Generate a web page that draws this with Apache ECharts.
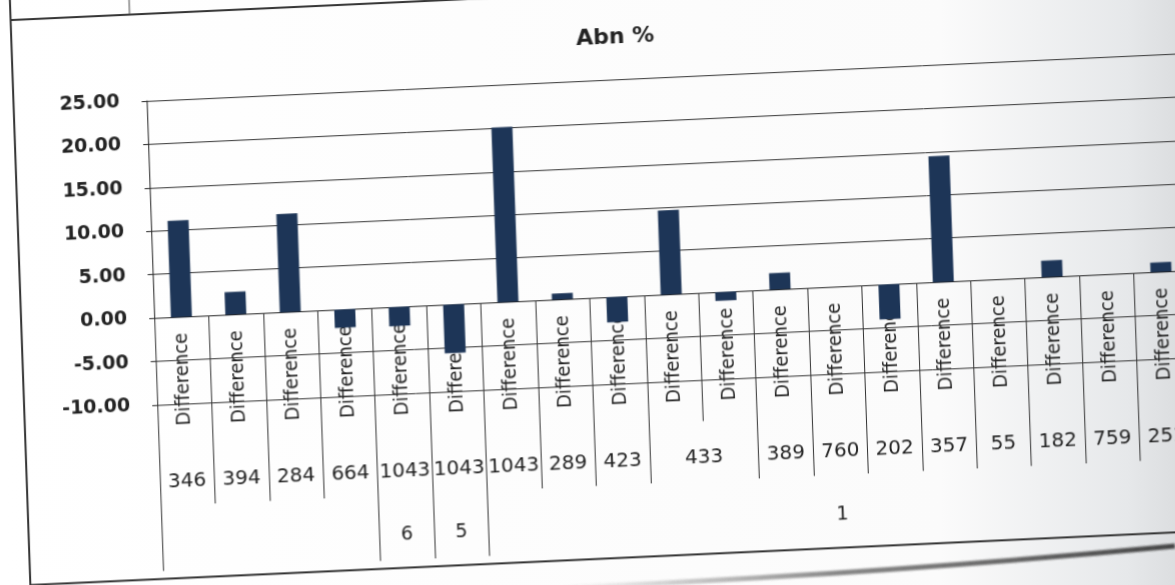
<!DOCTYPE html>
<html>
<head>
<meta charset="utf-8">
<script src="https://cdn.jsdelivr.net/npm/echarts@6/dist/echarts.min.js"></script>
<style>
  html, body { margin: 0; padding: 0; width: 1175px; height: 585px; overflow: hidden; }
  body { background: linear-gradient(to right, #ffffff 0%, #fbfbfb 80%, #e6e8ea 96%, #dcdee0 100%); position: relative; }
  /* the printed sheet sits slightly skewed on the page */
  #chart {
    position: absolute; left: -40px; top: -40px; width: 1255px; height: 665px;
    transform-origin: 627.5px 332.5px;
    transform: matrix(1, -0.046, 0.035, 1, 0, 0);
  }
  #edge { position: absolute; left: 0; top: 0; width: 1175px; height: 585px; pointer-events: none; }
</style>
</head>
<body>
<svg id="edge" viewBox="0 0 1175 585">
  <defs>
    <linearGradient id="fade" x1="0" y1="0" x2="1" y2="0">
      <stop offset="0" stop-color="#666" stop-opacity="0"/>
      <stop offset="0.45" stop-color="#555" stop-opacity="0.7"/>
      <stop offset="1" stop-color="#333" stop-opacity="0.9"/>
    </linearGradient>
    <filter id="soft"><feGaussianBlur stdDeviation="1.2"/></filter>
  </defs>
  <path d="M 560 588 Q 880 574 1175 546" fill="none" stroke="url(#fade)" stroke-width="5" filter="url(#soft)"/>
</svg>
<div id="chart"></div>
<script>
// Abn % difference per sample, three-level category axis
const categories = ['Difference', 'Difference', 'Difference', 'Difference', 'Difference',
  'Difference', 'Difference', 'Difference', 'Difference', 'Difference', 'Difference',
  'Difference', 'Difference', 'Difference', 'Difference', 'Difference', 'Difference',
  'Difference', 'Difference'];
const abnValues = [11.1, 2.6, 11.3, -2.1, -2.2, -5.6, 20.1, 0.7, -2.9, 9.7, -1.0,
  1.9, 0, -4.0, 14.5, 0, 1.9, 0, 1.1];

// second level: sample numbers and how many columns each one spans
const sampleLabels = ['346', '394', '284', '664', '1043', '1043', '1043', '289', '423',
  '433', '389', '760', '202', '357', '55', '182', '759', '251'];
const sampleSpans = [1, 1, 1, 1, 1, 1, 1, 1, 1, 2, 1, 1, 1, 1, 1, 1, 1, 1];

// third level: batch groups
const batchLabels = ['', '6', '5', '1'];
const batchSpans = [4, 1, 1, 13];

const yTicks = { min: -10, max: 25, step: 5 };

function groupLayout(labels, spans) {
  const bounds = [0], centers = [];
  let pos = 0;
  spans.forEach(function (s) { centers.push(pos + s / 2); pos += s; bounds.push(pos); });
  return { bounds: bounds, centers: centers, labels: labels };
}
const sampleGroups = groupLayout(sampleLabels, sampleSpans);
const batchGroups = groupLayout(batchLabels, batchSpans);

function labelAt(groups) {
  return function (v) {
    for (let i = 0; i < groups.centers.length; i++) {
      if (Math.abs(groups.centers[i] - v) < 1e-6) return groups.labels[i];
    }
    return '';
  };
}

const P = 40;                // margin of the enlarged canvas
const gridTop = P + 81, gridH = 304, gridLeft = P + 154, gridW = 1034;
// the category axis crosses the value axis at 0
const zeroOffset = -(0 - yTicks.min) / (yTicks.max - yTicks.min) * gridH;
const ink = '#222';
const narrow = "'DejaVu Sans Condensed', sans-serif";
const sans = "'DejaVu Sans', sans-serif";

const chart = echarts.init(document.getElementById('chart'), null, { renderer: 'canvas' });
chart.setOption({
  backgroundColor: 'transparent',
  animation: false,
  title: {
    text: 'Abn %',
    left: P + 624, top: P + 28, textAlign: 'center', padding: 0,
    textStyle: { fontFamily: sans, fontSize: 22, fontWeight: 'bold', color: ink }
  },
  grid: { left: gridLeft, top: gridTop, width: gridW, height: gridH, containLabel: false },
  xAxis: [
    {
      type: 'category', data: categories, position: 'bottom', offset: zeroOffset,
      axisLine: { show: true, onZero: false, lineStyle: { color: ink, width: 1 } },
      axisTick: { show: true, interval: 0, length: 128, lineStyle: { color: '#333' } },
      axisLabel: { interval: 0, rotate: 90, margin: 16, fontFamily: narrow, fontSize: 20, color: ink },
      splitLine: { show: false }
    },
    {
      type: 'value', min: 0, max: categories.length, position: 'bottom', offset: 41,
      axisLine: { show: false, onZero: false },
      axisTick: { show: true, customValues: sampleGroups.bounds, length: 60, lineStyle: { color: '#333' } },
      axisLabel: { customValues: sampleGroups.centers, formatter: labelAt(sampleGroups),
        margin: 27, fontFamily: sans, fontSize: 20, color: ink, hideOverlap: false },
      splitLine: { show: false }
    },
    {
      type: 'value', min: 0, max: categories.length, position: 'bottom', offset: 101,
      axisLine: { show: false, onZero: false },
      axisTick: { show: true, customValues: batchGroups.bounds, length: 65, lineStyle: { color: '#333' } },
      axisLabel: { customValues: batchGroups.centers, formatter: labelAt(batchGroups),
        margin: 31, fontFamily: sans, fontSize: 19, color: ink, hideOverlap: false },
      splitLine: { show: false }
    }
  ],
  yAxis: {
    type: 'value', min: yTicks.min, max: yTicks.max, interval: yTicks.step,
    axisLine: { show: true, onZero: false, lineStyle: { color: ink, width: 1 } },
    axisTick: { show: true, length: 5, lineStyle: { color: ink } },
    axisLabel: { margin: 27, formatter: function (v) { return v.toFixed(2); },
      fontFamily: sans, fontSize: 19, fontWeight: 'bold', color: ink },
    splitLine: { show: true, lineStyle: { color: '#333', width: 1 } }
  },
  series: [{
    type: 'bar', xAxisIndex: 0, yAxisIndex: 0, data: abnValues,
    barWidth: 21, itemStyle: { color: '#1d3557' }
  }],
  graphic: [
    { type: 'rect', shape: { x: P + 21, y: P - 6, width: 1230, height: 565 },
      style: { fill: 'none', stroke: '#333', lineWidth: 2 }, silent: true },
    { type: 'line', shape: { x1: P + 21, y1: 0, x2: P + 21, y2: P - 6 },
      style: { stroke: '#333', lineWidth: 2 }, silent: true },
    { type: 'line', shape: { x1: P + 140, y1: 0, x2: P + 140, y2: P - 6 },
      style: { stroke: '#444', lineWidth: 1 }, silent: true }
  ]
});
</script>
</body>
</html>
